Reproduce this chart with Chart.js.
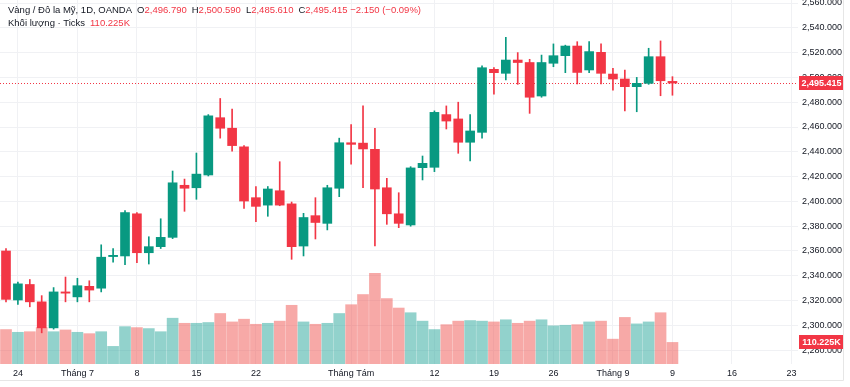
<!DOCTYPE html>
<html>
<head>
<meta charset="utf-8">
<script src="https://cdn.jsdelivr.net/npm/chart.js@4.4.1/dist/chart.umd.min.js"></script>
<style>
  html, body { margin: 0; padding: 0; background: #fff; }
  #wrap { position: relative; width: 850px; height: 387px; }
  #legend { position: absolute; left: 8px; top: 3px; font: 9.5px 'Liberation Sans', Arial, sans-serif; color: #131722; line-height: 13px; white-space: nowrap; }
  #legend .v { color: #f23645; }
  #legend .k { margin-left: 5px; }
</style>
</head>
<body>
<div id="wrap">
  <canvas id="goldChart" width="850" height="387"></canvas>
  <div id="legend">
    <div>Vàng / Đô la Mỹ, 1D, OANDA<span class="k">O</span><span class="v">2,496.790</span><span class="k">H</span><span class="v">2,500.590</span><span class="k">L</span><span class="v">2,485.610</span><span class="k">C</span><span class="v">2,495.415</span> <span class="v">−2.150 (−0.09%)</span></div>
    <div>Khối lượng · Ticks<span class="k v">110.225K</span></div>
  </div>
</div>
<script>
// ── Daily XAU/USD candles, 21 Jun → 9 Sep (one entry per trading day) ──────
const opens  = [2360, 2320.5, 2333, 2319, 2298, 2327, 2323, 2331.5, 2330, 2355.5,
                2356, 2390, 2358.6, 2363.5, 2371, 2413, 2411, 2421.3, 2467.5, 2459,
                2444, 2403, 2397, 2408.6, 2398, 2364, 2388.5, 2382.3, 2410.6, 2447.3,
                2447, 2442, 2411, 2390, 2381, 2427.2, 2427.5, 2470, 2466.5, 2447.7,
                2455.7, 2506.5, 2503.3, 2514, 2512, 2485, 2511.4, 2517.5, 2525.3, 2506,
                2520.2, 2502.7, 2498.7, 2492.5, 2495.2, 2516.7, 2496.79];
const highs  = [2362, 2335, 2337, 2324, 2330.5, 2339, 2338, 2336, 2365, 2362,
                2392.5, 2391, 2371.5, 2386, 2424.5, 2418, 2439, 2470, 2483, 2474.5,
                2445, 2412, 2412, 2432, 2399.5, 2390.4, 2403, 2413, 2451, 2462,
                2477, 2459, 2418.6, 2407, 2428, 2436.6, 2473, 2477, 2480, 2470,
                2509.4, 2508, 2532.3, 2520, 2514.6, 2518, 2527, 2526, 2528.8, 2528.8,
                2527, 2507.3, 2506, 2500, 2523.5, 2529.4, 2500.59];
const lows   = [2319, 2317, 2315, 2294, 2297, 2319, 2319, 2319, 2327, 2351,
                2349, 2350.5, 2349.5, 2362, 2370, 2392, 2401.7, 2420.5, 2451, 2440.6,
                2394.4, 2383.6, 2388, 2396.5, 2353.3, 2356, 2369.7, 2377, 2403.8, 2430,
                2411, 2364, 2381.5, 2378.8, 2380, 2417.3, 2424, 2458.4, 2438.8, 2432.6,
                2451, 2486.4, 2498, 2494.4, 2471, 2484, 2508.6, 2503.8, 2494.7, 2503.8,
                2494.7, 2489.8, 2473, 2472.3, 2494.4, 2485.2, 2485.61];
const closes = [2321, 2333.5, 2319, 2298, 2327, 2326, 2332, 2328.5, 2355, 2356.5,
                2391, 2358.6, 2363.5, 2371, 2415, 2410.6, 2422, 2469, 2459, 2445,
                2400.3, 2396, 2410, 2397, 2363.5, 2387, 2383, 2411, 2447.3, 2446,
                2442.3, 2410, 2390, 2382.3, 2427, 2430.7, 2471.8, 2464.8, 2447.7, 2456.8,
                2507.8, 2503.8, 2514, 2512, 2484, 2512, 2517.5, 2525.3, 2504, 2520.8,
                2503.3, 2498.7, 2492.5, 2495.2, 2516.7, 2497.3, 2495.415];
// tick volume, thousands
const volumes = [176, 162, 165, 186, 165, 174, 162, 155, 165, 90,
                 191, 186, 181, 165, 234, 208, 208, 212, 258, 215,
                 229, 203, 208, 219, 300, 215, 203, 208, 258, 303,
                 355, 463, 334, 286, 262, 219, 176, 201, 219, 222,
                 219, 215, 226, 208, 219, 226, 195, 198, 201, 215,
                 219, 127, 238, 205, 215, 262, 110.225];

// ── Axis labels ─────────────────────────────────────────────────────────────
const dateTickIdx    = [1, 6, 11, 16, 21, 29, 36, 41, 46, 51, 56, 61, 66];
const dateTickLabels = ['24', 'Tháng 7', '8', '15', '22', 'Tháng Tám', '12', '19', '26', 'Tháng 9', '9', '16', '23'];
const priceTicks     = [2280, 2300, 2320, 2340, 2360, 2380, 2400, 2420, 2440, 2460, 2480, 2500, 2520, 2540, 2560];

const upColor   = '#089981';
const downColor = '#f23645';
const upVol     = 'rgba(38,166,154,0.5)';
const downVol   = 'rgba(239,83,80,0.5)';
const axisFont  = { family: "'Liberation Sans', Arial, sans-serif", size: 9 };

const isUp = closes.map((c, i) => c >= opens[i]);
const lastClose = closes[closes.length - 1];
const lastVol   = volumes[volumes.length - 1];
const fmtPrice  = v => v.toLocaleString('en-US', { minimumFractionDigits: 3, maximumFractionDigits: 3 });

// ── Price line, badges, frame ───────────────────────────────────────────────
const overlay = {
  id: 'overlay',
  beforeDatasetsDraw(chart) {
    const { ctx, chartArea: a, scales: { y } } = chart;
    const py = Math.round(y.getPixelForValue(lastClose)) + 0.5;
    ctx.save();
    ctx.strokeStyle = downColor;
    ctx.lineWidth = 1;
    ctx.setLineDash([1, 2]);
    ctx.beginPath();
    ctx.moveTo(a.left, py);
    ctx.lineTo(a.right, py);
    ctx.stroke();
    ctx.restore();
  },
  afterDraw(chart) {
    const { ctx, chartArea: a, scales: { y, yv } } = chart;
    const badge = (py, text) => {
      ctx.fillStyle = downColor;
      ctx.fillRect(a.right + 1, Math.round(py) - 7, 45, 14);
      ctx.fillStyle = '#fff';
      ctx.font = "bold 9px 'Liberation Sans', Arial, sans-serif";
      ctx.textBaseline = 'middle';
      ctx.textAlign = 'center';
      ctx.fillText(text, a.right + 23.5, Math.round(py) + 0.5);
    };
    ctx.save();
    badge(y.getPixelForValue(lastClose), fmtPrice(lastClose));
    badge(yv.getPixelForValue(lastVol), lastVol.toFixed(3) + 'K');
    ctx.strokeStyle = '#e6e6e6';
    ctx.lineWidth = 1;
    ctx.beginPath();
    ctx.moveTo(843.5, 0);
    ctx.lineTo(843.5, 380.5);
    ctx.lineTo(0, 380.5);
    ctx.stroke();
    ctx.restore();
  }
};

const ctx = document.getElementById('goldChart').getContext('2d');
const goldChart = new Chart(ctx, {
  type: 'bar',
  data: {
    datasets: [
      {
        label: 'Thân nến',
        data: opens.map((o, i) => ({ x: i, y: [o, closes[i]] })),
        backgroundColor: isUp.map(u => u ? upColor : downColor),
        barThickness: 9,
        minBarLength: 1,
        grouped: false,
        yAxisID: 'y',
        order: 1
      },
      {
        label: 'Bóng nến',
        data: lows.map((l, i) => ({ x: i, y: [l, highs[i]] })),
        backgroundColor: isUp.map(u => u ? upColor : downColor),
        barThickness: 1,
        grouped: false,
        yAxisID: 'y',
        order: 2
      },
      {
        label: 'Khối lượng',
        data: volumes.map((v, i) => ({ x: i, y: v })),
        backgroundColor: isUp.map(u => u ? upVol : downVol),
        barThickness: 11,
        grouped: false,
        yAxisID: 'yv',
        order: 3
      }
    ]
  },
  options: {
    responsive: false,
    animation: false,
    layout: { padding: 0 },
    plugins: { legend: { display: false }, tooltip: { enabled: false } },
    scales: {
      x: {
        type: 'linear',
        offset: false,
        min: -0.504,
        max: 66.55,
        afterBuildTicks: s => { s.ticks = dateTickIdx.map(v => ({ value: v })); },
        afterFit: s => { s.height = 23; s.paddingLeft = 0; s.paddingRight = 0; },
        ticks: {
          callback: (v, i) => dateTickLabels[i],
          autoSkip: false, maxRotation: 0, padding: 4,
          color: '#131722', font: axisFont
        },
        grid: { color: '#f0f1f4', drawTicks: false, offset: false },
        border: { display: false }
      },
      y: {
        position: 'right',
        min: 2268.87,
        max: 2562.42,
        afterBuildTicks: s => { s.ticks = priceTicks.map(v => ({ value: v })); },
        afterFit: s => { s.width = 52; s.paddingTop = 0; s.paddingBottom = 0; },
        ticks: { callback: v => fmtPrice(v), padding: 4, color: '#131722', font: axisFont },
        grid: { color: '#f0f1f4', drawTicks: false },
        border: { display: false }
      },
      yv: { display: false, min: 0, max: 1860 }
    }
  },
  plugins: [overlay]
});
</script>
</body>
</html>
